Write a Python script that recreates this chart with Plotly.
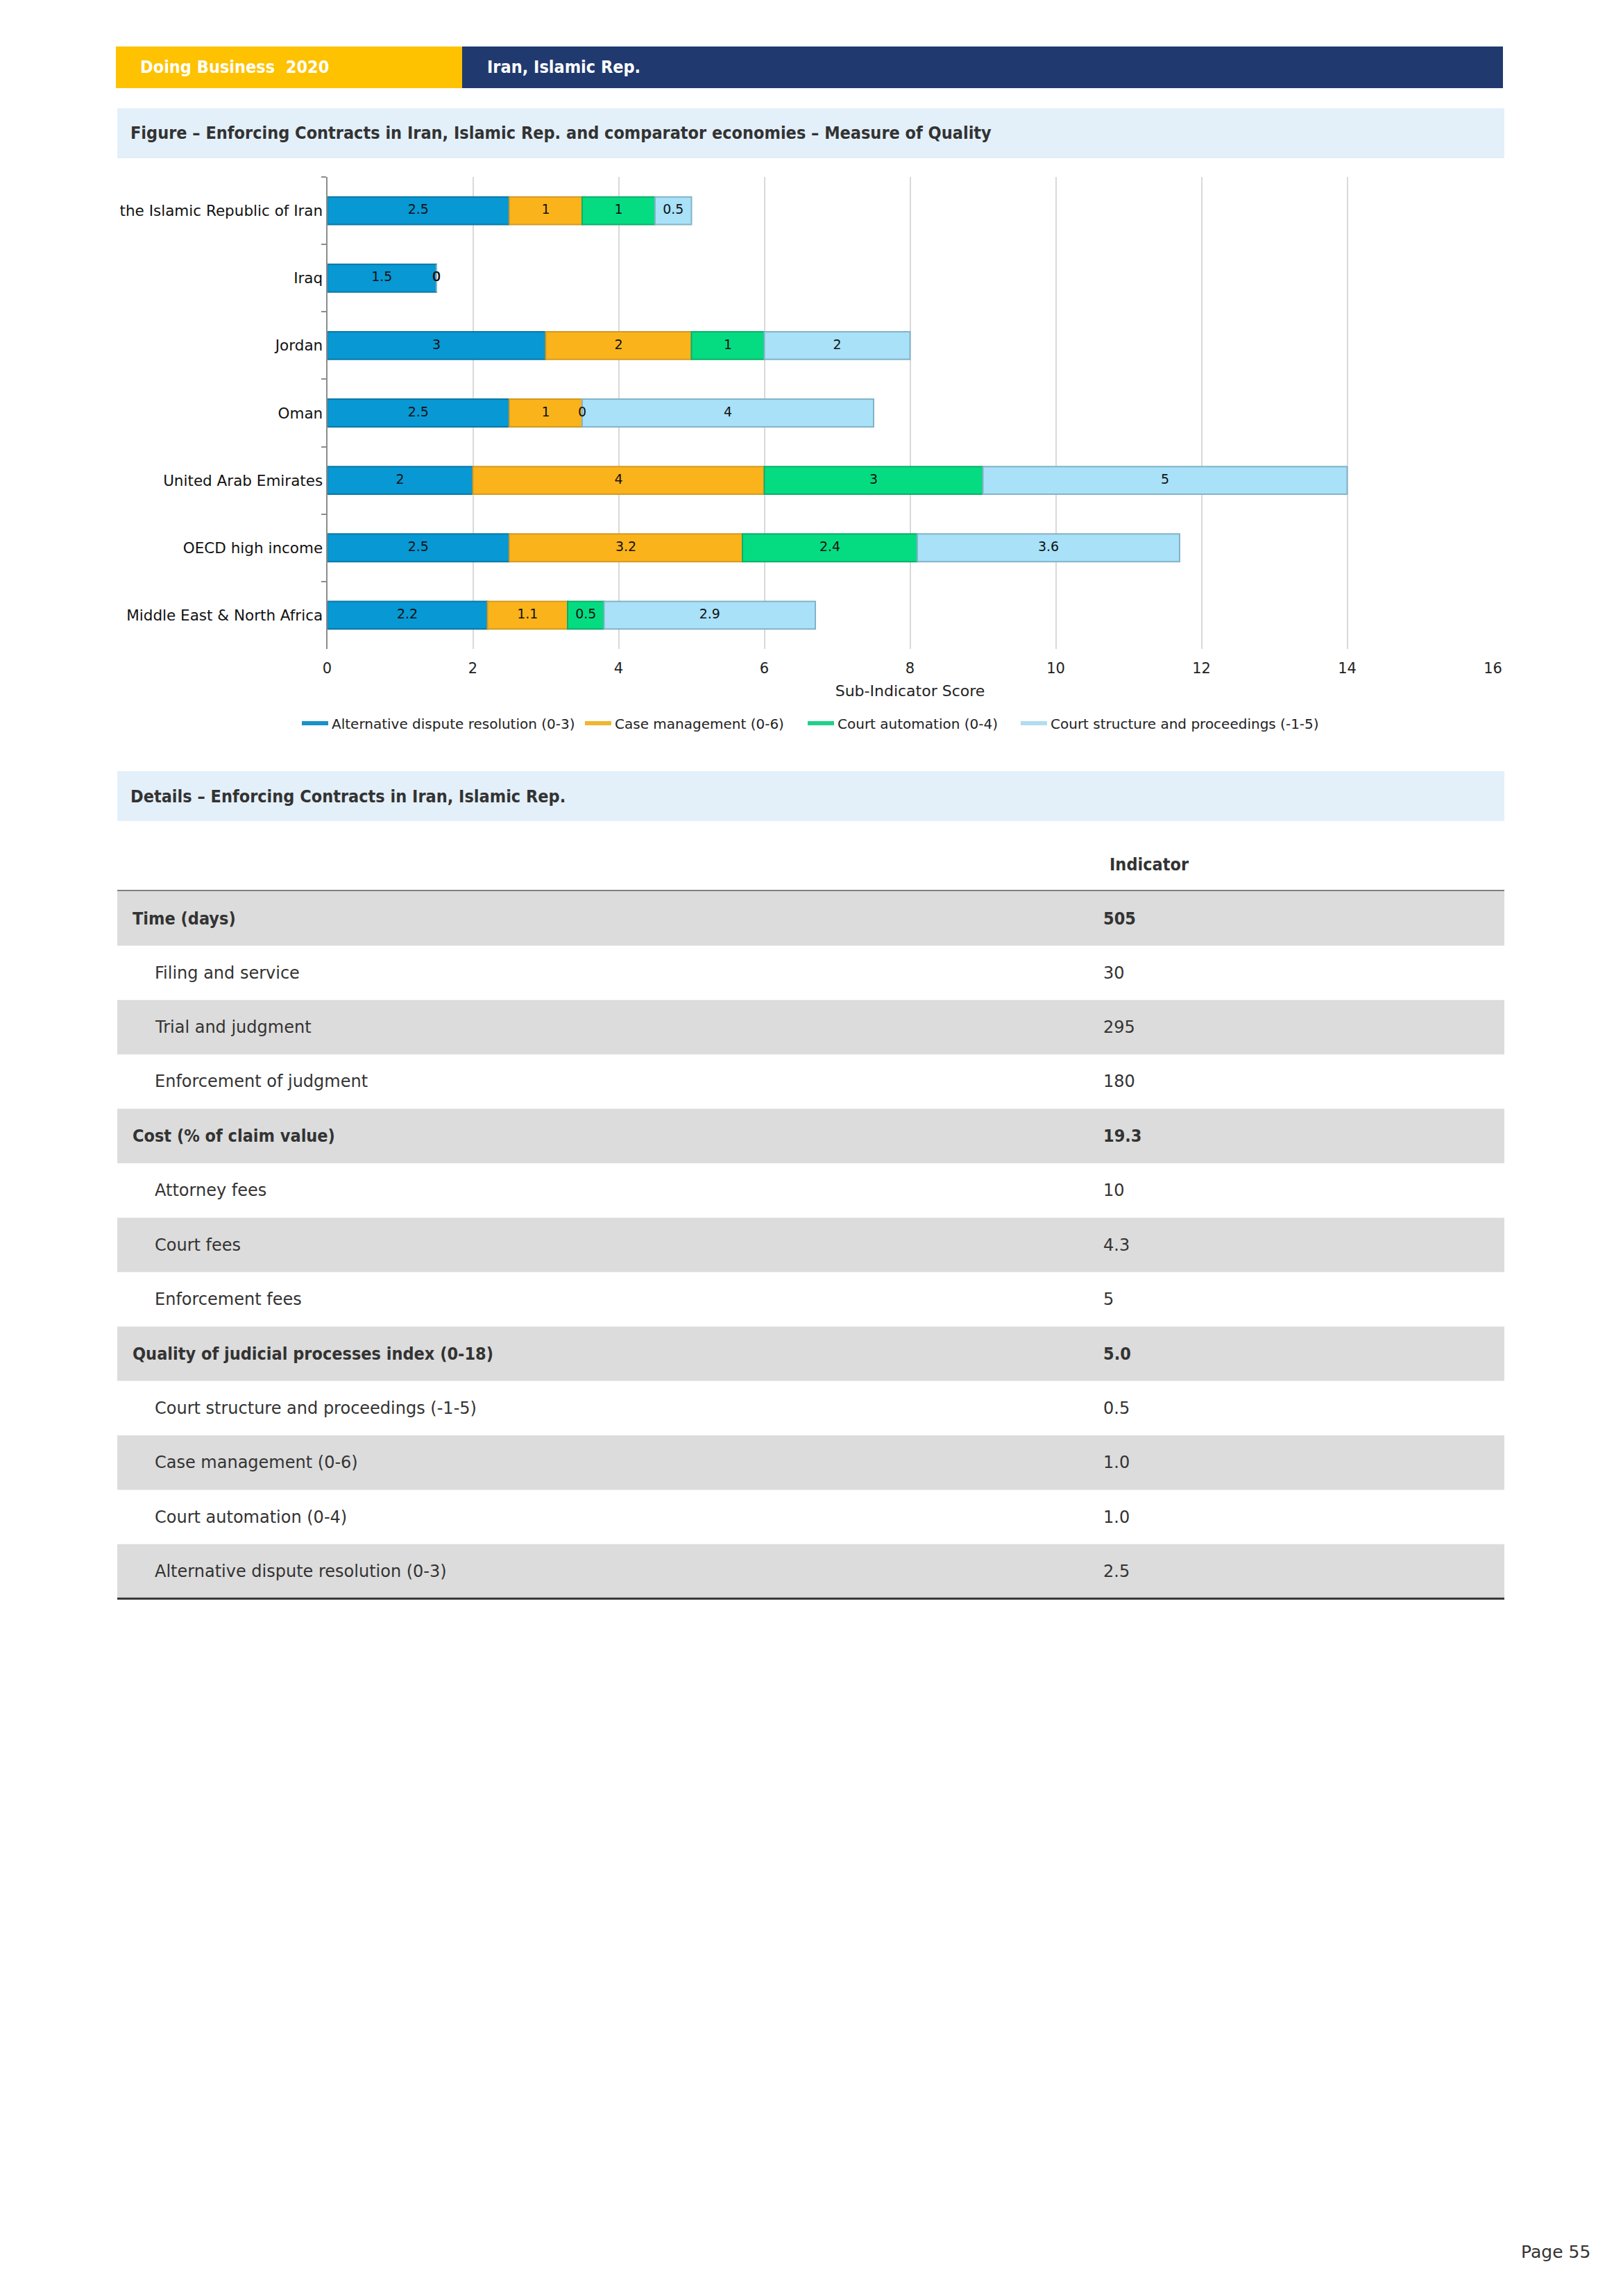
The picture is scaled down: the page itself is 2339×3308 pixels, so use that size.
import plotly.graph_objects as go

W, H = 2339, 3308

# ---------------- data ----------------
economies = ["the Islamic Republic of Iran", "Iraq", "Jordan", "Oman",
             "United Arab Emirates", "OECD high income", "Middle East & North Africa"]
series_names = ["Alternative dispute resolution (0-3)", "Case management (0-6)",
                "Court automation (0-4)", "Court structure and proceedings (-1-5)"]
adr = [2.5, 1.5, 3, 2.5, 2, 2.5, 2.2]
case_mgmt = [1, 0, 2, 1, 4, 3.2, 1.1]
court_auto = [1, 0, 1, 0, 3, 2.4, 0.5]
court_struct = [0.5, 0, 2, 4, 5, 3.6, 2.9]
x_ticks = [0, 2, 4, 6, 8, 10, 12, 14, 16]

table_labels = ["Time (days)", "Filing and service", "Trial and judgment",
                "Enforcement of judgment", "Cost (% of claim value)", "Attorney fees",
                "Court fees", "Enforcement fees",
                "Quality of judicial processes index (0-18)",
                "Court structure and proceedings (-1-5)", "Case management (0-6)",
                "Court automation (0-4)", "Alternative dispute resolution (0-3)"]
table_values = ["505", "30", "295", "180", "19.3", "10", "4.3", "5",
                "5.0", "0.5", "1.0", "1.0", "2.5"]
table_is_total = [True, False, False, False, True, False, False, False,
                  True, False, False, False, False]

header_left = "Doing Business  2020"
header_right = "Iran, Islamic Rep."
fig_title = "Figure – Enforcing Contracts in Iran, Islamic Rep. and comparator economies – Measure of Quality"
details_title = "Details – Enforcing Contracts in Iran, Islamic Rep."
table_col_header = "Indicator"
page_label = "Page 55"

# ---------------- styles ----------------
fills = ["#0898D3", "#FBB31B", "#05DC82", "#A8E1F8"]
edges = ["#0A78A5", "#D29A22", "#0AAF6A", "#83B3C8"]
legend_cols = ["#1693C9", "#F0B62E", "#21D08A", "#B2DDF0"]
legend_left_px = [430, 838, 1159, 1466]
FONT = "DejaVu Sans"
FONT_C = "DejaVu Sans Condensed, DejaVu Sans"

def X(px):
    return px / W

def Y(py):
    return 1 - py / H

fig = go.Figure()
series = [adr, case_mgmt, court_auto, court_struct]

base = [0.0] * len(economies)
for k, vals in enumerate(series):
    fig.add_trace(go.Bar(
        y=economies, x=vals, base=base[:], orientation="h",
        marker=dict(color=fills[k], line=dict(color=edges[k], width=2)),
        showlegend=False, hoverinfo="skip", name=series_names[k]))
    # centred labels for each segment
    fig.add_trace(go.Scatter(
        y=economies, x=[b + v / 2 for b, v in zip(base, vals)],
        text=[f"{v:g}" for v in vals], mode="text",
        textfont=dict(family=FONT, size=19, color="#111111"),
        showlegend=False, hoverinfo="skip"))
    base = [b + v for b, v in zip(base, vals)]

legend_layout = {}
for k, nm in enumerate(series_names):
    lname = "legend" if k == 0 else f"legend{k + 1}"
    fig.add_trace(go.Scatter(
        x=[None], y=[None], mode="lines", name=nm, legend=lname,
        line=dict(color=legend_cols[k], width=6), showlegend=True))
    legend_layout[lname] = dict(
        orientation="h", x=X(legend_left_px[k]), y=Y(1042), xanchor="left",
        yanchor="middle", font=dict(family=FONT, size=20, color="#222222"),
        itemwidth=38, bgcolor="rgba(0,0,0,0)")

plot_left, plot_right = 471.5, 2151.5
plot_top, plot_bottom = 255, 935

fig.update_layout(
    width=W, height=H, autosize=False, margin=dict(l=0, r=0, t=0, b=0, autoexpand=False),
    paper_bgcolor="white", plot_bgcolor="white",
    barmode="overlay", bargap=0.59,
    font=dict(family=FONT, color="#222222"),
    xaxis=dict(domain=[X(plot_left), X(plot_right)], range=[0, 16],
               tickvals=x_ticks, showgrid=True, gridcolor="#D9D9D9", gridwidth=1.5,
               zeroline=False, showline=False, ticks="outside", ticklen=9,
               tickcolor="rgba(0,0,0,0)", automargin=False,
               tickfont=dict(family=FONT, size=21, color="#222222"),
               title=dict(text="Sub-Indicator Score", standoff=13,
                          font=dict(family=FONT, size=22, color="#222222"))),
    yaxis=dict(domain=[Y(plot_bottom), Y(plot_top)], autorange="reversed",
               type="category", showgrid=False, zeroline=False, automargin=False,
               showline=True, linecolor="#8C8C8C", linewidth=2,
               ticks="outside", ticklen=7, tickcolor="#8C8C8C", tickwidth=2,
               tickson="boundaries",
               tickfont=dict(family=FONT, size=21.5, color="#111111")),
    **legend_layout,
)

shapes = []
annots = []
# header bars
shapes.append(dict(type="rect", xref="paper", yref="paper", x0=X(167), x1=X(666),
                   y0=Y(127), y1=Y(67), fillcolor="#FEC200", line=dict(width=0)))
shapes.append(dict(type="rect", xref="paper", yref="paper", x0=X(666), x1=X(2166),
                   y0=Y(127), y1=Y(67), fillcolor="#203A6F", line=dict(width=0)))
annots.append(dict(x=X(200), y=Y(97), xref="paper", yref="paper", text=f"<b>{header_left}</b>",
                   showarrow=False, xanchor="left", yanchor="middle",
                   font=dict(family=FONT_C, size=25, color="white")))
annots.append(dict(x=X(700), y=Y(97), xref="paper", yref="paper", text=f"<b>{header_right}</b>",
                   showarrow=False, xanchor="left", yanchor="middle",
                   font=dict(family=FONT_C, size=25, color="white")))
# section title boxes
for (t0, t1, txt) in [(156, 228, fig_title), (1111, 1183, details_title)]:
    shapes.append(dict(type="rect", xref="paper", yref="paper", x0=X(169), x1=X(2168),
                       y0=Y(t1), y1=Y(t0), fillcolor="#E3F0FA", line=dict(width=0), layer="below"))
    annots.append(dict(x=X(186), y=Y((t0 + t1) / 2), xref="paper", yref="paper",
                       text=f"<b>{txt}</b>", showarrow=False, xanchor="left", yanchor="middle",
                       font=dict(family=FONT_C, size=25, color="#333333")))

# table
row_top = 1284
row_h = 78.4
annots.append(dict(x=X(1597), y=Y(1245), xref="paper", yref="paper",
                   text=f"<b>{table_col_header}</b>", showarrow=False, xanchor="left",
                   yanchor="middle", font=dict(family=FONT_C, size=25, color="#333333")))
for i, (lab, val, tot) in enumerate(zip(table_labels, table_values, table_is_total)):
    y0 = row_top + i * row_h
    if i % 2 == 0:
        shapes.append(dict(type="rect", xref="paper", yref="paper", x0=X(169), x1=X(2168),
                           y0=Y(y0 + row_h), y1=Y(y0), fillcolor="#DCDCDC",
                           line=dict(width=0), layer="below"))
    yc = Y(y0 + row_h / 2)
    if tot:
        annots.append(dict(x=X(189), y=yc, xref="paper", yref="paper", text=f"<b>{lab}</b>",
                           showarrow=False, xanchor="left", yanchor="middle",
                           font=dict(family=FONT_C, size=25, color="#333333")))
        annots.append(dict(x=X(1588), y=yc, xref="paper", yref="paper", text=f"<b>{val}</b>",
                           showarrow=False, xanchor="left", yanchor="middle",
                           font=dict(family=FONT_C, size=25, color="#333333")))
    else:
        annots.append(dict(x=X(221), y=yc, xref="paper", yref="paper", text=lab,
                           showarrow=False, xanchor="left", yanchor="middle",
                           font=dict(family=FONT, size=24, color="#333333")))
        annots.append(dict(x=X(1588), y=yc, xref="paper", yref="paper", text=val,
                           showarrow=False, xanchor="left", yanchor="middle",
                           font=dict(family=FONT, size=24, color="#333333")))

shapes.append(dict(type="line", xref="paper", yref="paper", x0=X(169), x1=X(2168),
                   y0=Y(1283), y1=Y(1283), line=dict(color="#808080", width=2)))
end_y = row_top + len(table_labels) * row_h
shapes.append(dict(type="line", xref="paper", yref="paper", x0=X(169), x1=X(2168),
                   y0=Y(end_y), y1=Y(end_y), line=dict(color="#333333", width=3)))

annots.append(dict(x=X(2294), y=Y(3244), xref="paper", yref="paper", text=page_label,
                   showarrow=False, xanchor="right", yanchor="middle",
                   font=dict(family=FONT, size=25, color="#333333")))

fig.update_layout(shapes=shapes, annotations=annots)
fig.write_html(
    "out.html",
    config={"responsive": False, "displayModeBar": False},
    post_script=("document.body.style.margin='0';"
                 "document.body.style.overflow='hidden';"
                 "document.documentElement.style.overflow='hidden';"
                 "var gd=document.getElementById('{plot_id}');"
                 "Plotly.relayout(gd,{width:%d,height:%d});" % (W, H)))
